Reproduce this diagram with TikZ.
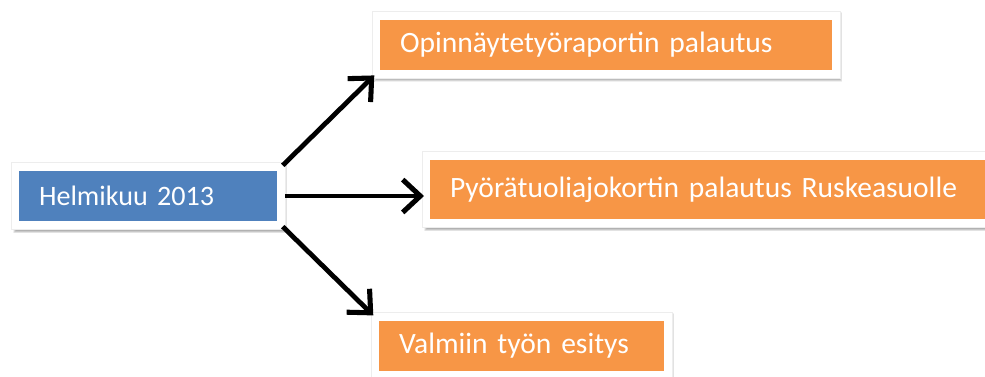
\documentclass[tikz,border=0pt]{standalone}
\usepackage{fontspec}
\setmainfont{Carlito}
\usetikzlibrary{arrows.meta,backgrounds}
\definecolor{boxblue}{HTML}{4F81BD}
\definecolor{boxorange}{HTML}{F79646}
\begin{document}
\begin{tikzpicture}[
    box/.style={text=white, align=left, outer sep=0pt,
        inner xsep=0.5cm, minimum height=1.25cm, anchor=west,
        font=\fontsize{20}{24}\selectfont},
    task/.style={box, fill=boxorange, font=\fontsize{21}{25}\selectfont},
    frame/.style={fill=white, draw=black!7, line width=0.4pt},
    arr/.style={line width=3.4pt, -{Straight Barb[length=0.44cm, width=0.82cm, line width=3.6pt]}}
]
    \useasboundingbox (0,0) rectangle (24.625,-9.4);

    \node (helmi) at (0.475,-4.9) [box, fill=boxblue, text width=5.45cm] {Helmikuu 2013};
    \node (raportti) at (9.5,-1.12) [task, text width=10.3cm] {Opinnäytetyöraportin palautus};
    \node (kortti) at (10.75,-4.74) [task, text width=13.3cm, minimum height=1.475cm] {Pyörätuoliajokortin palautus Ruskeasuolle};
    \node (esitys) at (9.475,-8.65) [task, text width=6.12cm] {Valmiin työn esitys};

    % white frames with a soft shadow behind the boxes
    \begin{scope}[on background layer]
        \foreach \n in {helmi,raportti,kortti,esitys} {
            \foreach \k in {0,1,...,5}
                \fill[black, opacity=0.06]
                    ([shift={(-0.2+0.06+\k*0.012,-0.2-0.1+\k*0.012)}]\n.south west)
                    rectangle ([shift={(0.2+0.06-\k*0.012,0.22-0.03-\k*0.012)}]\n.north east);
            \path[frame] ([shift={(-0.2,-0.2)}]\n.south west) rectangle ([shift={(0.2,0.22)}]\n.north east);
        }
    \end{scope}

    \draw[arr, shorten <=0.2cm, shorten >=0.2cm] (helmi.north east) -- (raportti.south west);
    \draw[arr, shorten <=0.2cm, shorten >=0.15cm] (helmi.east) -- (helmi.east -| kortti.west);
    \draw[arr, shorten <=0.2cm, shorten >=0.2cm] (helmi.south east) -- (esitys.north west);
\end{tikzpicture}
\end{document}
